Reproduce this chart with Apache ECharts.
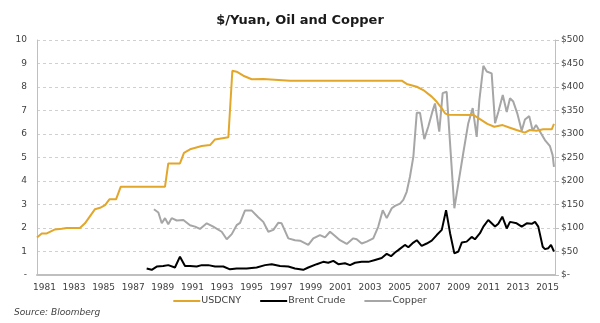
<!DOCTYPE html>
<html>
<head>
<meta charset="utf-8">
<script src="https://cdn.jsdelivr.net/npm/echarts@6/dist/echarts.min.js"></script>
<style>html,body{margin:0;padding:0;background:#fff;}#c{width:600px;height:323px;}</style>
</head>
<body>
<div id="c"></div>
<script>
// ---- Data ----
var xLabelYears = [1981,1983,1985,1987,1989,1991,1993,1995,1997,1999,2001,2003,2005,2007,2009,2011,2013,2015];

var cnyDates = [1981.0,1981.32,1981.66,1982.22,1982.67,1983.0,1983.9,1984.24,1984.92,1985.26,1985.6,1985.89,1986.34,1986.66,1989.65,1989.87,1990.66,1990.93,1991.34,1992.13,1992.69,1993.03,1993.93,1994.2,1994.49,1994.94,1995.51,1996.29,1998.09,2005.64,2005.98,2006.66,2007.1,2007.67,2008.01,2008.35,2008.57,2008.79,2010.48,2010.93,2011.43,2011.9,2012.46,2012.86,2013.4,2013.96,2014.3,2014.75,2015.2,2015.78,2015.93];
var cnyValues = [1.60,1.77,1.77,1.94,1.97,2.0,2.0,2.2,2.8,2.86,2.97,3.22,3.22,3.76,3.76,4.75,4.75,5.2,5.35,5.49,5.53,5.77,5.86,8.69,8.65,8.48,8.33,8.34,8.27,8.27,8.13,8.01,7.87,7.59,7.37,7.09,6.88,6.82,6.81,6.63,6.43,6.31,6.38,6.29,6.17,6.06,6.17,6.14,6.2,6.2,6.43];

var brentDates = [1988.41,1988.75,1989.09,1989.53,1989.87,1990.32,1990.66,1991.0,1991.34,1991.79,1992.13,1992.57,1993.03,1993.59,1994.04,1994.49,1995.17,1995.84,1996.41,1996.86,1997.42,1997.98,1998.43,1998.99,1999.33,1999.9,2000.34,2000.68,2001.02,2001.36,2001.81,2002.15,2002.49,2002.94,2003.39,2003.84,2004.29,2004.63,2004.92,2005.19,2005.41,2005.86,2006.09,2006.43,2006.66,2006.99,2007.33,2007.67,2008.01,2008.35,2008.64,2008.91,2009.2,2009.47,2009.7,2010.03,2010.37,2010.59,2010.93,2011.16,2011.49,2011.95,2012.17,2012.44,2012.74,2012.96,2013.41,2013.75,2014.09,2014.43,2014.65,2014.87,2015.17,2015.32,2015.55,2015.73,2015.93];
var brentValues = [14,11,18,19,21,16,39,19,19,18,21,21,18,18,12,14,14,16,21,23,19,18,14,11,16,23,28,26,30,23,25,21,26,28,28,32,36,45,40,48,53,64,59,69,74,62,67,73,85,96,138,89,46,50,69,71,81,76,89,103,117,103,109,124,99,113,110,103,110,109,113,103,60,55,57,64,50];

var copperDates = [1988.9,1989.2,1989.43,1989.65,1989.87,1990.1,1990.44,1990.89,1991.34,1991.68,1992.01,1992.47,1992.91,1993.48,1993.82,1994.16,1994.49,1994.72,1995.05,1995.51,1995.95,1996.29,1996.63,1996.97,1997.3,1997.53,1997.98,1998.43,1998.77,1999.33,1999.67,2000.12,2000.46,2000.8,2001.14,2001.47,2001.93,2002.37,2002.6,2002.94,2003.28,2003.72,2004.06,2004.36,2004.63,2004.97,2005.19,2005.53,2005.75,2005.98,2006.2,2006.43,2006.66,2006.88,2007.17,2007.44,2007.71,2007.89,2008.18,2008.41,2008.68,2008.91,2009.2,2009.47,2009.8,2010.14,2010.44,2010.71,2010.89,2011.16,2011.39,2011.72,2011.95,2012.17,2012.47,2012.74,2012.96,2013.18,2013.45,2013.75,2013.97,2014.26,2014.49,2014.72,2014.99,2015.32,2015.66,2015.84,2015.93];
var copperValues = [140,133,110,121,108,121,116,117,106,103,98,110,103,92,76,87,106,111,137,137,123,113,92,96,111,110,78,74,73,64,78,85,80,92,83,74,66,78,76,67,71,78,103,138,121,142,147,152,160,177,209,252,345,345,289,316,347,365,305,387,390,280,142,195,259,323,355,294,372,445,433,429,323,347,383,347,376,369,344,307,331,338,307,319,305,287,274,255,230];

function pairs(xs, ys) { return xs.map(function (x, i) { return [x, ys[i]]; }); }

var FONT = 'DejaVu Sans';
var chart = echarts.init(document.getElementById('c'), null, {renderer: 'canvas'});
chart.setOption({
  animation: false,
  backgroundColor: '#ffffff',
  textStyle: {fontFamily: FONT},
  title: {
    text: '$/Yuan, Oil and Copper',
    left: 'center', top: 9,
    textStyle: {fontFamily: FONT, fontSize: 13, fontWeight: 'bold', color: '#1a1a1a'}
  },
  graphic: [{
    type: 'text', left: 14, top: 308,
    style: {text: 'Source: Bloomberg', fontFamily: FONT, fontSize: 9, fontStyle: 'italic', fill: '#404040'}
  }],
  legend: {
    bottom: 12, left: 'center', itemWidth: 27, itemHeight: 2, itemGap: 19,
    icon: 'rect',
    textStyle: {fontFamily: FONT, fontSize: 9.5, color: '#404040', padding: [0,0,0,-4]},
    data: ['USDCNY', 'Brent Crude', 'Copper']
  },
  grid: {left: 37, right: 45, top: 40, bottom: 48, containLabel: false},
  xAxis: {
    type: 'value', min: 1981, max: 2016,
    axisLine: {show: true, lineStyle: {color: '#bfbfbf', width: 2}},
    axisTick: {show: false},
    splitLine: {show: false},
    axisLabel: {customValues: xLabelYears.map(function (y) { return y + 0.5; }),
      formatter: function (v) { return String(Math.floor(v)); },
      fontFamily: FONT, fontSize: 9, color: '#404040', margin: 8}
  },
  yAxis: [{
    type: 'value', min: 0, max: 10, interval: 1,
    axisLine: {show: true, lineStyle: {color: '#bfbfbf'}},
    axisTick: {show: false},
    splitLine: {show: true, lineStyle: {color: '#d0d0d0', type: [3, 3]}},
    axisLabel: {formatter: function (v) { return v === 0 ? '-' : String(v); },
      fontFamily: FONT, fontSize: 9, color: '#404040', margin: 10}
  }, {
    type: 'value', min: 0, max: 500, interval: 50, position: 'right',
    axisLine: {show: true, lineStyle: {color: '#bfbfbf'}},
    axisTick: {show: true, length: 4, lineStyle: {color: '#bfbfbf'}},
    splitLine: {show: false},
    axisLabel: {formatter: function (v) { return v === 0 ? '$-' : '$' + v; },
      fontFamily: FONT, fontSize: 9, color: '#404040', margin: 6}
  }],
  series: [{
    name: 'USDCNY', type: 'line', yAxisIndex: 0, showSymbol: false, symbol: 'none',
    data: pairs(cnyDates, cnyValues),
    lineStyle: {color: '#E2A72A', width: 2}, itemStyle: {color: '#E2A72A'}, z: 3
  }, {
    name: 'Brent Crude', type: 'line', yAxisIndex: 1, showSymbol: false, symbol: 'none',
    data: pairs(brentDates, brentValues),
    lineStyle: {color: '#000000', width: 2}, itemStyle: {color: '#000000'}, z: 4
  }, {
    name: 'Copper', type: 'line', yAxisIndex: 1, showSymbol: false, symbol: 'none',
    data: pairs(copperDates, copperValues),
    lineStyle: {color: '#A6A6A6', width: 2}, itemStyle: {color: '#A6A6A6'}, z: 2
  }]
});
</script>
</body>
</html>
